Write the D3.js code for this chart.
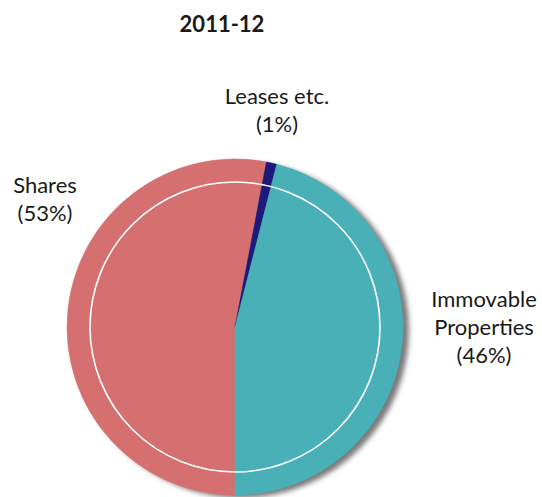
<!DOCTYPE html>
<html>
<head>
<meta charset="utf-8">
<script src="https://cdn.jsdelivr.net/npm/d3@7"></script>
<style>
  html, body { margin: 0; padding: 0; background: #fff; }
  svg { display: block; }
  text { font-family: Lato, "Open Sans", sans-serif; fill: #1a1a1a; }
</style>
</head>
<body>
<svg id="chart" width="542" height="497"></svg>
<script>
// Composition of holdings, 2011-12 (percent)
const title = "2011-12";
const categories = ["Shares", "Leases etc.", "Immovable Properties"];
const values = [53, 1, 46];
const colors = ["#d67070", "#1c1a7a", "#4ab0b8"];
// label lines per category; the share is appended as "(n%)"
const labelLines = [["Shares"], ["Leases etc."], ["Immovable", "Properties"]];
const labelAnchors = [[45, 193], [277, 104], [484, 307]];

const width = 542, height = 497;
const cx = 235, cy = 327, radius = 168, ringRadius = 145;
const lineHeight = 28;

const svg = d3.select("#chart");

const defs = svg.append("defs");
const shadow = defs.append("filter").attr("id", "pieShadow")
  .attr("x", "-20%").attr("y", "-20%").attr("width", "140%").attr("height", "140%");
shadow.append("feGaussianBlur").attr("stdDeviation", 2.8);

svg.append("text")
  .attr("x", 222).attr("y", 32)
  .attr("text-anchor", "middle")
  .style("font-size", "22px").style("font-weight", "bold")
  .text(title);

const data = categories.map((c, i) => ({ category: c, value: values[i], color: colors[i], i }));

const pie = d3.pie()
  .sort(null)
  .value(d => d.value)
  .startAngle(Math.PI)
  .endAngle(3 * Math.PI);

const arc = d3.arc().innerRadius(0).outerRadius(radius);

const g = svg.append("g").attr("transform", `translate(${cx},${cy})`);

// soft drop shadow behind the disc
g.append("circle")
  .attr("cx", 6).attr("cy", 3).attr("r", radius)
  .attr("fill", "#7a7a7a")
  .attr("filter", "url(#pieShadow)");

g.selectAll("path.slice")
  .data(pie(data))
  .join("path")
  .attr("class", "slice")
  .attr("d", arc)
  .attr("fill", d => d.data.color)
  .attr("stroke", d => d.data.color)
  .attr("stroke-width", 0.5);

// thin white inner ring
g.append("circle")
  .attr("r", ringRadius)
  .attr("fill", "none")
  .attr("stroke", "#fff")
  .attr("stroke-width", 1.6);

// category labels
data.forEach((d, i) => {
  const lines = labelLines[i].concat([`(${d.value}%)`]);
  const [lx, ly] = labelAnchors[i];
  const t = svg.append("text")
    .attr("text-anchor", "middle")
    .style("font-size", "22px");
  lines.forEach((line, k) => {
    t.append("tspan")
      .attr("x", lx)
      .attr("y", ly + k * lineHeight)
      .text(line);
  });
});
</script>
</body>
</html>
